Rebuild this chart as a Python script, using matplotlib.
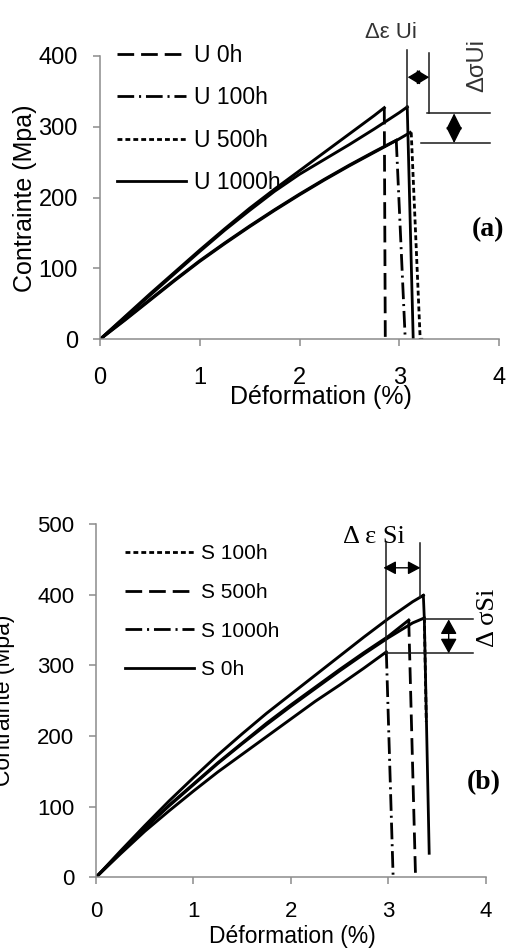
import matplotlib
matplotlib.use("Agg")
import matplotlib.pyplot as plt

plt.rcParams['font.family'] = ['Liberation Sans', 'DejaVu Sans']
plt.rcParams['lines.scale_dashes'] = False

# ---- panel (a) : U series, rising part + fracture drop ----
u_rise_x = {
    'U 0h':    [0, 0.25, 0.5, 0.75, 1.0, 1.25, 1.5, 1.75, 2.0, 2.25, 2.5, 2.75, 2.85],
    'U 100h':  [0, 0.25, 0.5, 0.75, 1.0, 1.25, 1.5, 1.75, 2.0, 2.25, 2.5, 2.75, 2.97],
    'U 500h':  [0, 0.25, 0.5, 0.75, 1.0, 1.25, 1.5, 1.75, 2.0, 2.25, 2.5, 2.75, 3.0, 3.11],
    'U 1000h': [0, 0.25, 0.5, 0.75, 1.0, 1.25, 1.5, 1.75, 2.0, 2.25, 2.5, 2.75, 3.0, 3.08],
}
u_rise_y = {
    'U 0h':    [0, 32, 64, 95, 126, 156, 185, 212, 238, 264, 290, 316, 327],
    'U 100h':  [0, 28, 56, 84, 111, 136, 160, 183, 205, 226, 246, 265, 281],
    'U 500h':  [0, 27, 55, 83, 110, 135, 159, 182, 204, 225, 245, 264, 283, 292],
    'U 1000h': [0, 31, 62, 93, 124, 154, 182, 209, 233, 254, 275, 297, 320, 328],
}
u_drop_x = {
    'U 0h':    [2.85, 2.86],
    'U 100h':  [2.97, 3.06],
    'U 500h':  [3.12, 3.21, 3.24],
    'U 1000h': [3.08, 3.14],
}
u_drop_y = {
    'U 0h':    [327, 0],
    'U 100h':  [281, 0],
    'U 500h':  [292, 0, 0],
    'U 1000h': [328, 0],
}
u_order = ['U 0h', 'U 100h', 'U 500h', 'U 1000h']

# ---- panel (b) : S series ----
s_rise_x = {
    'S 100h':  [0, 0.25, 0.5, 0.75, 1.0, 1.25, 1.5, 1.75, 2.0, 2.25, 2.5, 2.75, 3.0, 3.25, 3.37],
    'S 500h':  [0, 0.25, 0.5, 0.75, 1.0, 1.25, 1.5, 1.75, 2.0, 2.25, 2.5, 2.75, 3.0, 3.21],
    'S 1000h': [0, 0.25, 0.5, 0.75, 1.0, 1.25, 1.5, 1.75, 2.0, 2.25, 2.5, 2.75, 2.98],
    'S 0h':    [0, 0.25, 0.5, 0.75, 1.0, 1.25, 1.5, 1.75, 2.0, 2.25, 2.5, 2.75, 3.0, 3.25, 3.36],
}
s_rise_y = {
    'S 100h':  [0, 35, 69, 101, 131, 161, 189, 216, 242, 267, 292, 316, 339, 360, 367],
    'S 500h':  [0, 35, 70, 102, 132, 162, 190, 218, 244, 269, 294, 318, 341, 364],
    'S 1000h': [0, 33, 65, 94, 122, 149, 174, 199, 224, 249, 272, 296, 319],
    'S 0h':    [0, 37, 73, 108, 141, 173, 203, 232, 259, 286, 313, 340, 366, 390, 399],
}
s_drop_x = {
    'S 100h':  [3.37, 3.39],
    'S 500h':  [3.21, 3.28],
    'S 1000h': [2.98, 3.05],
    'S 0h':    [3.36, 3.37, 3.42],
}
s_drop_y = {
    'S 100h':  [367, 220],
    'S 500h':  [364, 0],
    'S 1000h': [319, 0],
    'S 0h':    [399, 366, 34],
}
s_order = ['S 100h', 'S 500h', 'S 1000h', 'S 0h']

styles = {
    'dash': (0, (12, 5)),
    'dashdot': (0, (12, 3.5, 1.5, 3.5)),
    'dot': (0, (3.5, 2.2)),
    'solid': '-',
}
u_style = {'U 0h': styles['dash'], 'U 100h': styles['dashdot'],
           'U 500h': styles['dot'], 'U 1000h': styles['solid']}
s_style = {'S 100h': styles['dot'], 'S 500h': styles['dash'],
           'S 1000h': styles['dashdot'], 'S 0h': styles['solid']}

W, H = 508, 948
fig = plt.figure(figsize=(W / 100, H / 100), dpi=100)


def px(x, y):
    return x / W, 1 - y / H


def style_axes(ax, ymax, ystep, tick_fs, xpad, ypad):
    ax.set_xlim(0, 4)
    ax.set_ylim(0, ymax)
    ax.set_xticks(range(0, 5))
    ax.set_yticks(range(0, ymax + 1, ystep))
    for s in ['top', 'right']:
        ax.spines[s].set_visible(False)
    for s in ['left', 'bottom']:
        ax.spines[s].set_color('#8c8c8c')
        ax.spines[s].set_linewidth(1.1)
    ax.tick_params(direction='out', length=5, width=1.1, color='#8c8c8c',
                   labelsize=tick_fs)
    ax.tick_params(axis='x', pad=xpad)
    ax.tick_params(axis='y', pad=ypad)


def darrow(ax, p0, p1, hl, hw):
    ax.annotate('', xy=p1, xytext=p0, annotation_clip=False,
                arrowprops=dict(arrowstyle='<|-|>,head_length=%g,head_width=%g' % (hl, hw),
                                color='black', lw=1.0, shrinkA=0, shrinkB=0))


# ---------------- panel (a) ----------------
l, b = px(100, 339.3)
ax1 = fig.add_axes([l, b, 399 / W, 283.3 / H])
handles = []
for name in u_order:
    ax1.plot(u_rise_x[name], u_rise_y[name], color='black', lw=2.1, solid_joinstyle='round')
    h, = ax1.plot(u_drop_x[name], u_drop_y[name], color='black', lw=2,
                  linestyle=u_style[name], label=name)
    handles.append(h)
style_axes(ax1, 400, 100, 17, 15, 11)
ax1.legend(handles=handles, loc='upper left', frameon=False, fontsize=16.5,
           bbox_to_anchor=px(117, 44), bbox_transform=fig.transFigure,
           borderaxespad=0, borderpad=0, handlelength=3.0, handletextpad=0.35,
           labelspacing=0.85)

ann = dict(color='#1a1a1a', lw=1.1, clip_on=False)
ax1.plot([3.08, 3.08], [409, 328], **ann)
ax1.plot([3.30, 3.30], [404, 319], **ann)
ax1.plot([3.28, 3.91], [319, 319], **ann)
ax1.plot([3.22, 3.91], [277, 277], **ann)
darrow(ax1, (3.085, 370), (3.30, 370), 0.75, 0.45)
darrow(ax1, (3.55, 319), (3.55, 277), 1.0, 0.5)

fig.text(*px(391, 33), '\u0394\u03b5 Ui', fontsize=16, color='#333333',
         ha='center', va='center')
fig.text(*px(477, 66), '\u0394\u03c3Ui', fontsize=17, color='#333333',
         ha='center', va='center', rotation=90)
fig.text(*px(472, 230), '(a)', fontsize=20, fontweight='bold',
         family='Liberation Serif', ha='left', va='center')
fig.text(*px(321, 397), 'D\u00e9formation (%)', fontsize=18, ha='center', va='center')
fig.text(*px(25, 198), 'Contrainte (Mpa)', fontsize=18, ha='center', va='center',
         rotation=90)

# ---------------- panel (b) ----------------
l, b = px(96, 877.3)
ax2 = fig.add_axes([l, b, 389.7 / W, 353.3 / H])
handles = []
for name in s_order:
    ax2.plot(s_rise_x[name], s_rise_y[name], color='black', lw=2.1, solid_joinstyle='round')
    h, = ax2.plot(s_drop_x[name], s_drop_y[name], color='black', lw=2,
                  linestyle=s_style[name], label=name)
    handles.append(h)
style_axes(ax2, 500, 100, 16, 12, 10.5)
ax2.legend(handles=handles, loc='upper left', frameon=False, fontsize=15,
           bbox_to_anchor=px(125, 544), bbox_transform=fig.transFigure,
           borderaxespad=0, borderpad=0, handlelength=3.3, handletextpad=0.35,
           labelspacing=0.95)

ax2.plot([2.98, 2.98], [473, 317], **ann)
ax2.plot([3.33, 3.33], [473, 397], **ann)
ax2.plot([3.37, 3.87], [365, 365], **ann)
ax2.plot([2.98, 3.87], [317, 317], **ann)
darrow(ax2, (2.95, 438), (3.33, 438), 0.75, 0.4)
darrow(ax2, (3.62, 365), (3.62, 317), 0.9, 0.5)

fig.text(*px(374, 537), '\u0394 \u03b5 Si', fontsize=19, family='Liberation Serif',
         ha='center', va='center')
fig.text(*px(488, 618), '\u0394 \u03c3Si', fontsize=19, family='Liberation Serif',
         ha='center', va='center', rotation=90)
fig.text(*px(467, 783), '(b)', fontsize=20, fontweight='bold',
         family='Liberation Serif', ha='left', va='center')
fig.text(*px(292, 937), 'D\u00e9formation (%)', fontsize=16.5, ha='center', va='center')
fig.text(*px(4, 700), 'Contrainte (Mpa)', fontsize=16.5, ha='center', va='center',
         rotation=90)

fig.savefig('out.png', dpi=100)
